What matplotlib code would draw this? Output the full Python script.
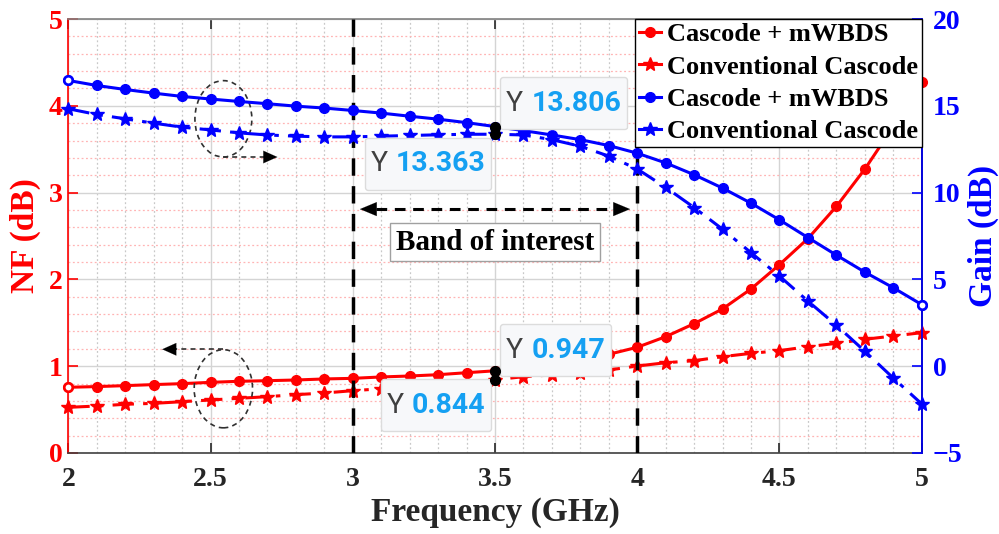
import numpy as np
import matplotlib
matplotlib.use('Agg')
import matplotlib.pyplot as plt
from matplotlib.patches import Ellipse
from matplotlib.lines import Line2D
from matplotlib.offsetbox import TextArea, HPacker, VPacker, DrawingArea, AnnotationBbox

# frequency sweep 2..5 GHz, step 0.1
freq = [2.0, 2.1, 2.2, 2.3, 2.4, 2.5, 2.6, 2.7, 2.8, 2.9, 3.0,
        3.1, 3.2, 3.3, 3.4, 3.5, 3.6, 3.7, 3.8, 3.9, 4.0,
        4.1, 4.2, 4.3, 4.4, 4.5, 4.6, 4.7, 4.8, 4.9, 5.0]

# noise figure (dB)
nf_mwbds = [0.757, 0.765, 0.776, 0.788, 0.799, 0.814, 0.826, 0.833, 0.841, 0.853, 0.860,
            0.876, 0.887, 0.902, 0.925, 0.947, 0.98, 1.02, 1.07, 1.137, 1.218,
            1.34, 1.49, 1.66, 1.89, 2.17, 2.47, 2.84, 3.27, 3.76, 4.28]
nf_conv = [0.526, 0.541, 0.561, 0.572, 0.591, 0.611, 0.630, 0.649, 0.672, 0.691, 0.718,
           0.74, 0.762, 0.788, 0.815, 0.844, 0.879, 0.899, 0.925, 0.956, 1.002,
           1.04, 1.063, 1.11, 1.148, 1.179, 1.225, 1.263, 1.31, 1.348, 1.386]

# gain (dB)
gain_mwbds = [16.46, 16.17, 15.94, 15.73, 15.54, 15.39, 15.25, 15.12, 14.98, 14.87, 14.73,
              14.58, 14.40, 14.23, 14.03, 13.806, 13.57, 13.32, 13.05, 12.71, 12.27,
              11.71, 11.03, 10.26, 9.39, 8.43, 7.41, 6.40, 5.42, 4.52, 3.55]
gain_conv = [14.83, 14.50, 14.25, 14.00, 13.77, 13.61, 13.44, 13.32, 13.25, 13.21, 13.21,
             13.25, 13.29, 13.33, 13.36, 13.363, 13.32, 13.05, 12.67, 12.10, 11.36,
             10.30, 9.14, 7.89, 6.54, 5.19, 3.75, 2.36, 0.86, -0.68, -2.17]

labels = ['Cascode + mWBDS', 'Conventional Cascode', 'Cascode + mWBDS', 'Conventional Cascode']

# data tips (x, value)
tip_x = 3.5
tip_gain = [13.806, 13.363]
tip_nf = [0.947, 0.844]

serif = 'Liberation Serif'
red = '#ff0000'
blue = '#0000ff'
dashdot = (0, (7, 3, 1.5, 3))

fig = plt.figure(figsize=(9.99, 5.34), dpi=100)
ax = fig.add_axes([0.0684, 0.1517, 0.8542, 0.8127])
ax2 = ax.twinx()

ax.set_xlim(2, 5)
ax.set_ylim(0, 5)
ax2.set_ylim(-5, 20)

# grid
ax.set_xticks(np.arange(2, 5.01, 0.5))
ax.set_xticks(np.arange(2, 5.01, 0.1), minor=True)
ax.set_yticks(range(0, 6))
ax.set_yticks(np.arange(0, 5.01, 0.2), minor=True)
ax2.set_yticks(range(-5, 21, 5))
ax.grid(which='major', color='#d4d4d4', lw=1.0, ls='-')
ax.xaxis.grid(which='minor', color='#c8c8c8', lw=0.9, ls=(0, (1.5, 2)))
ax.yaxis.grid(which='minor', color='#ffb4b4', lw=0.9, ls=(0, (1.5, 2)))
ax.set_axisbelow(True)

ax.set_xticklabels(['2', '2.5', '3', '3.5', '4', '4.5', '5'])
ax.tick_params(axis='x', which='major', direction='in', length=7, width=1.2,
               top=True, colors='#262626', labelsize=20, pad=10)
ax.tick_params(axis='y', which='major', direction='in', length=7, width=1.2,
               colors=red, labelsize=20, pad=4)
ax.tick_params(which='minor', length=0)
ax2.tick_params(axis='y', which='major', direction='in', length=7, width=1.2,
                colors=blue, labelsize=20, pad=8)
for lab in ax.get_xticklabels() + ax.get_yticklabels() + ax2.get_yticklabels():
    lab.set_fontfamily(serif)
    lab.set_fontweight('bold')

ax.spines['left'].set_color(red)
ax.spines['bottom'].set_color('#404040')
ax.spines['top'].set_color('#808080')
for s in ['left', 'top', 'bottom']:
    ax2.spines[s].set_visible(False)
ax2.spines['right'].set_color(blue)
for sp in list(ax.spines.values()) + [ax2.spines['right']]:
    sp.set_linewidth(1.2)

ax.set_xlabel('Frequency (GHz)', fontsize=24, fontfamily=serif, fontweight='bold',
              color='#262626', labelpad=4)
ax.set_ylabel('NF (dB)', fontsize=24, fontfamily=serif, fontweight='bold', color=red, labelpad=6)
ax2.set_ylabel('Gain (dB)', fontsize=24, fontfamily=serif, fontweight='bold', color=blue, labelpad=4)

# curves
ax.plot(freq, nf_mwbds, color=red, lw=2.2, marker='o', ms=7, clip_on=False, zorder=3)
ax.plot(freq, nf_conv, color=red, lw=2.2, ls=dashdot, marker='*', ms=10, clip_on=False, zorder=3)
ax2.plot(freq, gain_mwbds, color=blue, lw=2.2, marker='o', ms=7, clip_on=False, zorder=3)
ax2.plot(freq, gain_conv, color=blue, lw=2.2, ls=dashdot, marker='*', ms=10, clip_on=False, zorder=3)
# end markers of the circle series are hollow
ax.plot([freq[0]], [nf_mwbds[0]], 'o', ms=6, mfc='white', mec=red, mew=1.8, clip_on=False, zorder=3)
ax2.plot([freq[0], freq[-1]], [gain_mwbds[0], gain_mwbds[-1]], 'o', ms=6, mfc='white',
         mec=blue, mew=1.8, clip_on=False, zorder=3)

# band of interest
for xv in [3, 4]:
    ax.axvline(xv, color='k', lw=2.5, ls=(0, (5, 3)), zorder=4)
ax.plot([3.08, 3.92], [2.81, 2.81], color='k', lw=2.2, ls=(0, (3.5, 2.5)), zorder=4)
ax.annotate('', xy=(3.025, 2.81), xytext=(3.09, 2.81),
            arrowprops=dict(arrowstyle='-|>,head_length=1.2,head_width=0.5', color='k', lw=0.1,
                            shrinkA=0, shrinkB=0), zorder=5)
ax.annotate('', xy=(3.975, 2.81), xytext=(3.91, 2.81),
            arrowprops=dict(arrowstyle='-|>,head_length=1.2,head_width=0.5', color='k', lw=0.1,
                            shrinkA=0, shrinkB=0), zorder=5)
ax.text(3.5, 2.43, 'Band of interest', fontsize=21, fontfamily=serif, fontweight='bold',
        ha='center', va='center', zorder=5,
        bbox=dict(boxstyle='square,pad=0.2', fc='white', ec='#a0a0a0', lw=1))

# ellipses marking which axis belongs to which curve
for cx, cy, w, h in [(2.545, 3.85, 0.2, 0.88), (2.545, 0.74, 0.205, 0.9)]:
    ax.add_patch(Ellipse((cx, cy), w, h, fill=False, ec='#303030', lw=1.2,
                         ls=(0, (3, 2.5)), zorder=4))
ax.plot([2.545, 2.70], [3.41, 3.41], color='#303030', lw=1.2, ls=(0, (3, 2.5)), zorder=4)
ax.annotate('', xy=(2.735, 3.41), xytext=(2.69, 3.41),
            arrowprops=dict(arrowstyle='-|>,head_length=1.0,head_width=0.45', color='k', lw=0.1,
                            shrinkA=0, shrinkB=0), zorder=5)
ax.plot([2.545, 2.37], [1.195, 1.195], color='#303030', lw=1.2, ls=(0, (3, 2.5)), zorder=4)
ax.annotate('', xy=(2.33, 1.195), xytext=(2.38, 1.195),
            arrowprops=dict(arrowstyle='-|>,head_length=1.0,head_width=0.45', color='k', lw=0.1,
                            shrinkA=0, shrinkB=0), zorder=5)


def data_tip(axis, x, y, dx, dy, align):
    ta1 = TextArea('Y', textprops=dict(color='#404040', fontsize=20.5, fontfamily='Roboto'))
    ta2 = TextArea('%g' % y, textprops=dict(color='#15a0f2', fontsize=20.5, fontfamily='Roboto',
                                            fontweight='bold'))
    row = HPacker(children=[ta1, ta2], align='baseline', pad=0, sep=6)
    pack = VPacker(children=[DrawingArea(1, 5), row, DrawingArea(1, 5)], align='left', pad=0, sep=0)
    ab = AnnotationBbox(pack, (x, y), xybox=(dx, dy), xycoords='data', boxcoords='offset points',
                        box_alignment=align, frameon=True,
                        bboxprops=dict(boxstyle='round,pad=0.4,rounding_size=0.2',
                                       fc='#f7f8fa', ec='#dcdcdc', lw=1))
    ab.set_zorder(6)
    axis.add_artist(ab)
    axis.plot([x], [y], 'o', color='k', ms=7, zorder=7)


data_tip(ax2, tip_x, tip_gain[0], 7.8, 2, (0, 0))
data_tip(ax2, tip_x, tip_gain[1], -6.8, -6.5, (1, 1))
data_tip(ax, tip_x, tip_nf[0], 7.8, 0, (0, 0))
data_tip(ax, tip_x, tip_nf[1], -6.8, -3.5, (1, 1))

# legend
handles = [Line2D([], [], color=red, lw=2.2, marker='o', ms=7),
           Line2D([], [], color=red, lw=2.2, marker='*', ms=10),
           Line2D([], [], color=blue, lw=2.2, marker='o', ms=7),
           Line2D([], [], color=blue, lw=2.2, marker='*', ms=10)]
leg = ax2.legend(handles, labels, loc='upper right', borderaxespad=0, fancybox=False,
                 framealpha=1, edgecolor='k', handlelength=0.85, handletextpad=0.2,
                 labelspacing=0.33, borderpad=0.15,
                 prop=dict(family=serif, weight='bold', size=19))
leg.get_frame().set_linewidth(1.0)
leg.set_zorder(10)

fig.savefig('out.png', dpi=100)
